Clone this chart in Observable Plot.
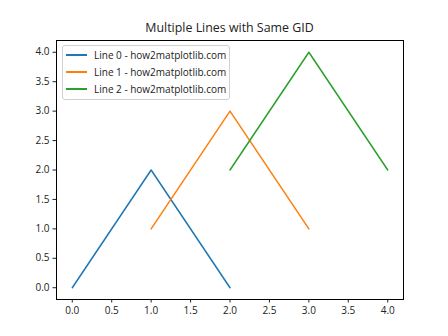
<!DOCTYPE html>
<html><head><meta charset="utf-8">
<script src="https://cdn.jsdelivr.net/npm/d3@7"></script>
<script src="https://cdn.jsdelivr.net/npm/@observablehq/plot@0.6"></script>
<style>
body{margin:0;background:#fff;font-family:"Open Sans",sans-serif;}
#wrap{position:relative;width:448px;height:336px;}
#title{position:absolute;left:56px;width:347px;top:19px;text-align:center;font-size:12.4px;color:#222;}
#legend{position:absolute;left:62px;top:45px;width:166px;height:53px;border:1px solid #d0d0d0;border-radius:3px;background:rgba(255,255,255,0.8);font-size:10px;color:#222;}
.row{position:absolute;left:3px;height:16px;display:flex;align-items:center;}
.sw{width:21px;height:1.5px;margin-right:7px;}
</style></head>
<body><div id="wrap"><div id="title"></div><div id="legend"></div></div>
<script>
const title = "Multiple Lines with Same GID";
const seriesNames = ["Line 0 - how2matplotlib.com","Line 1 - how2matplotlib.com","Line 2 - how2matplotlib.com"];
const colors = ["#1f77b4","#ff7f0e","#2ca02c"];
const xLine0 = [0,1,2], yLine0 = [0,2,0];
const xLine1 = [1,2,3], yLine1 = [1,3,1];
const xLine2 = [2,3,4], yLine2 = [2,4,2];
const tickValues = [0,0.5,1,1.5,2,2.5,3,3.5,4];

const xs=[xLine0,xLine1,xLine2], ys=[yLine0,yLine1,yLine2];
const data = [];
seriesNames.forEach((s,i)=>xs[i].forEach((x,j)=>data.push({series:s,x,y:ys[i][j]})));
const fmt = d3.format(".1f");
const chart = Plot.plot({
  width:448,height:336,marginLeft:56,marginRight:45,marginTop:40,marginBottom:37,
  style:{fontFamily:"Open Sans, sans-serif",fontSize:"10px",color:"#222",background:"transparent"},
  x:{domain:[-0.2,4.2]}, y:{domain:[-0.2,4.2]},
  color:{domain:seriesNames,range:colors},
  marks:[
    Plot.axisX({ticks:tickValues,tickFormat:fmt,tickSize:3.5,tickPadding:3.5,label:null}),
    Plot.axisY({ticks:tickValues,tickFormat:fmt,tickSize:3.5,tickPadding:3.5,label:null}),
    Plot.line(data,{x:"x",y:"y",z:"series",stroke:"series",strokeWidth:1.5}),
    Plot.frame({stroke:"#000",strokeWidth:1})
  ]
});
document.getElementById("wrap").prepend(chart);
chart.style.position="absolute";chart.style.left="0";chart.style.top="0";
document.getElementById("title").textContent=title;
const leg=document.getElementById("legend");
seriesNames.forEach((s,i)=>{
  const r=document.createElement("div");r.className="row";r.style.top=(1+i*17)+"px";
  const sw=document.createElement("div");sw.className="sw";sw.style.background=colors[i];
  const t=document.createElement("span");t.textContent=s;
  r.append(sw,t);leg.append(r);
});
</script></body></html>
